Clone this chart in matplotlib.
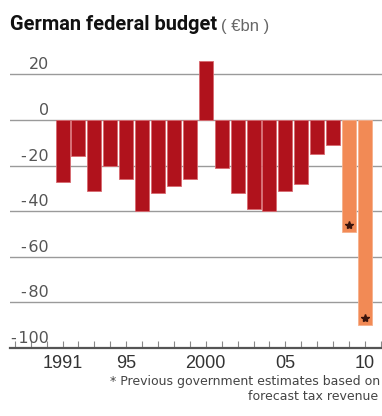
import matplotlib
matplotlib.use("Agg")
import matplotlib.pyplot as plt
import matplotlib.transforms as mtransforms
from matplotlib import font_manager
from matplotlib.ticker import FixedLocator, MultipleLocator

# data
years = list(range(1991, 2011))
balance = [-27, -16, -31, -20, -26, -40, -32, -29, -26, 26,
           -21, -32, -39, -40, -31, -28, -15, -11, -49, -90]
forecast_years = [2009, 2010]
estimates = [-46, -87]
ytick_vals = [20, 0, -20, -40, -60, -80, -100]
xtick_vals = [1991, 1995, 2000, 2005, 2010]
xtick_labels = ["1991", "95", "2000", "05", "10"]

installed = {f.name for f in font_manager.fontManager.ttflist}
sans = "Liberation Sans" if "Liberation Sans" in installed else "DejaVu Sans"
title_family = "Roboto" if "Roboto" in installed else "DejaVu Sans"

red = "#B0121C"
orange = "#F28A55"

fig = plt.figure(figsize=(3.82, 4.16), dpi=100)
W, H = 382, 416
ax = fig.add_axes([10 / W, (H - 348) / H, 372 / W, (348 - 51.6) / H])

colors = [orange if y in forecast_years else red for y in years]
edges = ["#F6B08C" if y in forecast_years else "#D86A70" for y in years]
ax.bar(years, balance, width=0.88, color=colors, edgecolor=edges,
       linewidth=0.6, zorder=2)
ax.plot(forecast_years, estimates, linestyle="none", marker="*",
        markersize=6, color="#3a140c", zorder=3)

ax.set_xlim(1987.7, 2011.07)
ax.set_ylim(-100, 30)

# horizontal gridlines
for v in ytick_vals[:-1]:
    ax.axhline(v, color="#9a9a9a", linewidth=1.0, zorder=1)

for s in ["top", "right", "left"]:
    ax.spines[s].set_visible(False)
ax.spines["bottom"].set_color("#555555")
ax.spines["bottom"].set_linewidth(1.6)

ax.set_yticks([])
ax.xaxis.set_major_locator(FixedLocator(xtick_vals))
ax.xaxis.set_minor_locator(MultipleLocator(1))
ax.set_xticklabels(xtick_labels, fontfamily=sans, fontsize=13, color="#333333")
ax.tick_params(axis="x", which="both", direction="in", length=5,
               width=0.8, color="#888888", pad=5)

# y labels sit above their gridline
offset = mtransforms.ScaledTranslation(0, 5 / 100, fig.dpi_scale_trans)
for v in ytick_vals:
    ax.text((49 - 10) / 372, v, "-\u200a" + str(abs(v)) if v < 0 else str(v),
            transform=ax.get_yaxis_transform() + offset,
            ha="right", va="baseline", fontfamily="DejaVu Sans", fontsize=11.5,
            color="#555555")

title = fig.text(10 / W, 1 - 30.5 / H, "German federal budget",
                 fontfamily=title_family, fontweight="bold", fontsize=14,
                 color="#111111", va="baseline")
# fit the title to its width in the reference (about 208 px)
fig.canvas.draw()
bb = title.get_window_extent()
title.set_fontsize(14 * 208 / bb.width)
fig.canvas.draw()
bb = title.get_window_extent()
fig.text(bb.x1 / W + 4 / W, 1 - 30.5 / H, "( €bn )", fontfamily=sans,
         fontsize=12, color="#666666", va="baseline")

fig.text(380 / W, 1 - 385 / H, "* Previous government estimates based on",
         fontfamily="DejaVu Sans", fontsize=9, color="#444444", ha="right", va="baseline")
fig.text(378 / W, 1 - 400 / H, "forecast tax revenue",
         fontfamily="DejaVu Sans", fontsize=9, color="#444444", ha="right", va="baseline")

fig.savefig("out.png", dpi=100)
